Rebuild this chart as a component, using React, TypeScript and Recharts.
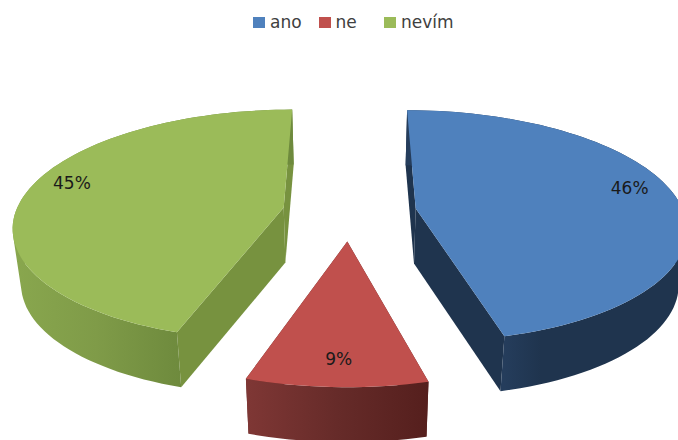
import { PieChart, Pie, Legend } from 'recharts';

const categories = ['ano', 'ne', 'nevím'];
const shares = [46, 9, 45];
const topColors = ['#4f81bd', '#c0504d', '#9bbb59'];
const wallColors = ['#1f344e', '#632825', '#77923f'];
const rimStops: [string, string][][] = [
  [['35%', '#253d5c'], ['48%', '#1f344e'], ['100%', '#1f344e']],
  [['0%', '#7f3735'], ['50%', '#662b29'], ['100%', '#551f1d']],
  [['0%', '#89a74e'], ['30%', '#7f9b48'], ['60%', '#6e8a3d']],
];

const tableData = categories.map((name, i) => ({ name, value: shares[i], fill: topColors[i] }));

// pie geometry: disc tilt, perspective, explode distance and wall height
const TILT = 0.425;
const PERSPECTIVE = 0.15;
const EXPLODE = 0.25;
const WALL = 55;
const WALL_SHRINK = 0.975;

type Pt = [number, number];

const project = (cx: number, cy: number, r: number, u: number, v: number, lower = false): Pt => {
  const s = 1 / (1 + PERSPECTIVE * v);
  const x = r * u * s;
  const y = -r * TILT * v * s;
  return lower ? [cx + x * WALL_SHRINK, cy + y + WALL] : [cx + x, cy + y];
};

const toPath = (pts: Pt[]) =>
  pts.map((p, i) => `${i ? 'L' : 'M'}${p[0].toFixed(1)},${p[1].toFixed(1)}`).join('') + 'Z';

// every quad wound the same way so the rim has no holes where it folds over
const windQuad = (q: Pt[]) => {
  const area = q.reduce((sum, p, i) => {
    const n = q[(i + 1) % q.length];
    return sum + p[0] * n[1] - n[0] * p[1];
  }, 0);
  return area < 0 ? [...q].reverse() : q;
};

// Recharts angles run counter-clockwise from 3 o'clock, the disc is measured clockwise from 12
const discPoint = (deg: number, mid: number, f = 1): [number, number] => {
  const t = ((90 - deg) * Math.PI) / 180;
  const m = ((90 - mid) * Math.PI) / 180;
  return [EXPLODE * Math.sin(m) + f * Math.sin(t), EXPLODE * Math.cos(m) + f * Math.cos(t)];
};

const Wedge3D = (props: any) => {
  const { cx, cy, outerRadius: r, startAngle, endAngle, fill, index } = props;
  const idx = index ?? categories.indexOf(props.name);
  const mid = (startAngle + endAngle) / 2;
  const steps = Math.max(2, Math.ceil(Math.abs(startAngle - endAngle) / 2));
  const arc: [number, number][] = [];
  for (let i = 0; i <= steps; i++) {
    arc.push(discPoint(startAngle + ((endAngle - startAngle) * i) / steps, mid));
  }
  const apex = discPoint(mid, mid, 0);
  const up = (p: [number, number]) => project(cx, cy, r, p[0], p[1]);
  const down = (p: [number, number]) => project(cx, cy, r, p[0], p[1], true);
  const rim = arc
    .slice(1)
    .map((p, i) => toPath(windQuad([up(arc[i]), up(p), down(p), down(arc[i])])))
    .join('');
  const gradId = `rim-${idx}`;
  const wall = wallColors[idx];
  return (
    <g>
      <defs>
        <linearGradient id={gradId} x1="0" y1="0" x2="1" y2="0">
          {rimStops[idx].map(([offset, color]) => (
            <stop key={offset} offset={offset} stopColor={color} />
          ))}
        </linearGradient>
      </defs>
      {/* side walls first, the top face covers whatever is behind it */}
      <path d={toPath([up(arc[0]), up(apex), down(apex), down(arc[0])])} fill={wall} />
      <path d={toPath([up(arc[steps]), up(apex), down(apex), down(arc[steps])])} fill={wall} />
      <path d={rim} fill={`url(#${gradId})`} />
      <path d={toPath([up(apex), ...arc.map(up)])} fill={fill} />
    </g>
  );
};

const labelOffsets = [-9, 1, -10];

const renderLabel = (props: any) => {
  const { cx, cy, outerRadius: r, midAngle, percent, index } = props;
  const p = discPoint(midAngle, midAngle, 0.825);
  const [x, y] = project(cx, cy, r, p[0], p[1]);
  return (
    <text x={x} y={y + labelOffsets[index]} textAnchor="middle" dominantBaseline="central" fontSize={17} fill="#1a1a1a" fontFamily="DejaVu Sans">
      {`${Math.round(percent * 100)}%`}
    </text>
  );
};

const renderLegend = (props: any) => (
  <div style={{ display: 'flex', fontFamily: 'DejaVu Sans', fontSize: 17, color: '#404040', lineHeight: '22px' }}>
    {props.payload.map((item: any) => (
      <div key={item.value} style={{ width: 65.5, display: 'flex', alignItems: 'center', whiteSpace: 'nowrap' }}>
        <span style={{ width: 12, height: 11, background: item.color, marginRight: 5, flex: 'none' }} />
        {item.value}
      </div>
    ))}
  </div>
);

export default function App() {
  return (
    <div style={{ position: 'absolute', left: 0, top: 0, width: 678, height: 440, background: '#fff' }}>
      <PieChart width={678} height={440} margin={{ top: 0, right: 0, bottom: 0, left: 0 }}>
        <Legend
          verticalAlign="top"
          height={0}
          content={renderLegend}
          wrapperStyle={{ left: 253, top: 11, width: 260 }}
        />
        <Pie
          data={tableData}
          dataKey="value"
          nameKey="name"
          cx={349.5}
          cy={190}
          innerRadius={0}
          outerRadius={268}
          startAngle={90}
          endAngle={-270}
          stroke="none"
          shape={Wedge3D}
          label={renderLabel}
          labelLine={false}
          isAnimationActive={false}
        />
      </PieChart>
    </div>
  );
}
